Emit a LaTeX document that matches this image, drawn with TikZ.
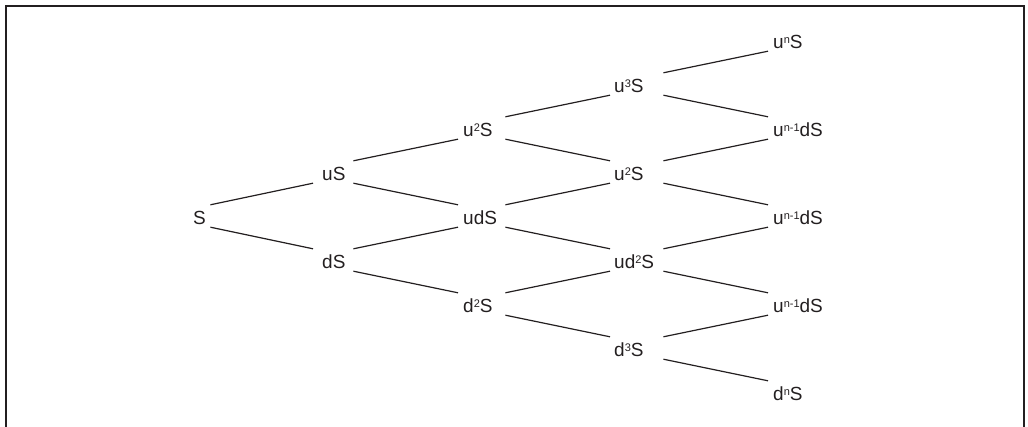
\documentclass[tikz,border=0pt]{standalone}
\usepackage{fontspec}
\setmainfont{Liberation Sans}
\definecolor{ink}{HTML}{231F20}
\newcommand\sx[1]{\raisebox{5.5pt}{\fontsize{11}{11}\selectfont #1}}
\begin{document}
\begin{tikzpicture}[x=1pt,y=-1pt,
  lbl/.style={anchor=west, inner ysep=0pt, text height=20pt, text depth=2pt,
    align=left, text=ink, font=\fontsize{19}{19}\selectfont},
  colA/.style={lbl, inner xsep=5pt, text width=12pt},
  colB/.style={lbl, inner xsep=9pt, text width=22pt},
  colC/.style={lbl, inner xsep=5pt, text width=37pt},
  colD/.style={lbl, inner xsep=4pt, text width=45pt},
  colE/.style={lbl, inner xsep=5pt, text width=60pt},
  edge/.style={draw=ink, line width=1.2pt},
  frame/.style={draw=ink, line width=2.6pt}]
\useasboundingbox (0,0) rectangle (1028,427);
\draw[frame] (6,430) -- (6,6) -- (1024,6) -- (1024,430);
% column 0
\node[colA] (S) at (188,216) {S};
% column 1
\node[colB] (uS) at (313,172) {uS};
\node[colB] (dS) at (313,260) {dS};
% column 2
\node[colC] (uuS) at (458,128) {u\sx{2}S};
\node[colC] (udS) at (458,216) {udS};
\node[colC] (ddS) at (458,304) {d\sx{2}S};
% column 3
\node[colD] (u3S) at (610,84) {u\sx{3}S};
\node[colD] (u2S) at (610,172) {u\sx{2}S};
\node[colD] (ud2S) at (610,260) {ud\sx{2}S};
\node[colD] (d3S) at (610,348) {d\sx{3}S};
% column 4
\node[colE] (unS) at (768,40) {u\sx{n}S};
\node[colE] (ua) at (768,128) {u\sx{n-1}dS};
\node[colE] (ub) at (768,216) {u\sx{n-1}dS};
\node[colE] (uc) at (768,304) {u\sx{n-1}dS};
\node[colE] (dnS) at (768,392) {d\sx{n}S};
% connectors
\foreach \a/\b in {S/uS, uS/uuS, dS/udS, uuS/u3S, udS/u2S, ddS/ud2S, u3S/unS, u2S/ua, ud2S/ub, d3S/uc}
  \draw[edge] (\a.north east) -- (\b.south west);
\foreach \a/\b in {S/dS, uS/udS, dS/ddS, uuS/u2S, udS/ud2S, ddS/d3S, u3S/ua, u2S/ub, ud2S/uc, d3S/dnS}
  \draw[edge] (\a.south east) -- (\b.north west);
\end{tikzpicture}
\end{document}
